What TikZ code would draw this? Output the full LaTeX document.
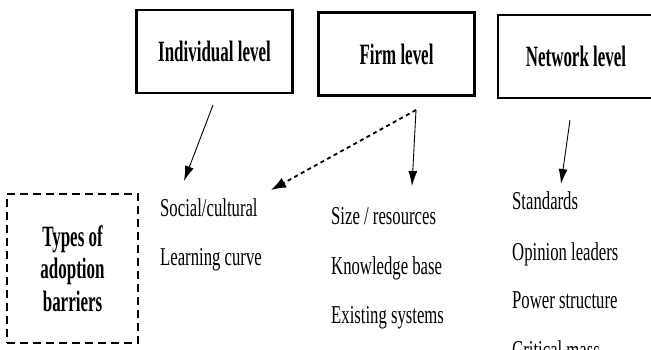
\documentclass[tikz,border=0pt]{standalone}
\usepackage{fontspec}
\setmainfont{Liberation Serif}
\newfontfamily\narrowrm[FakeStretch=0.65]{Liberation Serif}
\newfontfamily\narrowbf[FakeStretch=0.575]{Liberation Serif Bold}
\usetikzlibrary{arrows.meta}
\tikzset{
  lvl/.style={draw=black, line width=2.5pt, minimum width=156pt, minimum height=83pt,
              inner sep=0pt, font=\narrowbf\fontsize{29.5}{33}\selectfont},
  kind/.style={draw=black, line width=2pt, dash pattern=on 8pt off 5pt,
               minimum width=131pt, minimum height=149pt, inner sep=0pt, align=center,
               font=\narrowbf\fontsize{29.5}{32.5}\selectfont},
  item/.style={anchor=base west, inner sep=0pt, font=\narrowrm\fontsize{25.7}{30}\selectfont},
  arr/.style={-{Latex[length=15pt,width=9pt]}, line width=0.9pt},
  darr/.style={-{Latex[length=15pt,width=11pt]}, line width=1.8pt, dash pattern=on 4pt off 3.5pt},
}
\begin{document}
\begin{tikzpicture}[x=1pt,y=-1pt]
  \useasboundingbox (0,0) rectangle (651,350);
  % ---- levels ----
  \node[lvl] (indiv)   at (214.5,51.5) {Individual level};
  \node[lvl] (firm)    at (396.5,54)   {Firm level};
  \node[lvl] (network) at (576,56.5)   {Network level};
  % ---- barrier box ----
  \node[kind] (types) at (72.5,268.5) {Types of\\adoption\\barriers};
  % ---- barriers per level ----
  \node[item] (social)    at (160,217) {Social/cultural};
  \node[item] (learning)  at (160,265) {Learning curve};
  \node[item] (size)      at (331,225) {Size / resources};
  \node[item] (knowledge) at (331,274) {Knowledge base};
  \node[item] (existing)  at (331,323) {Existing systems};
  \node[item] (standards) at (512,210) {Standards};
  \node[item] (opinion)   at (512,260) {Opinion leaders};
  \node[item] (power)     at (512,308) {Power structure};
  \node[item] (critical)  at (512,358) {Critical mass};
  % ---- arrow ends ----
  \coordinate (i0) at (213,105);  \coordinate (i1) at (184,181);
  \coordinate (f0) at (416,110);  \coordinate (f1) at (412,186);
  \coordinate (d1) at (271,190);
  \coordinate (n0) at (570,120);  \coordinate (n1) at (561,184);
  \draw[arr]  (i0) -- (i1);
  \draw[arr]  (f0) -- (f1);
  \draw[darr] (f0) -- (d1);
  \draw[arr]  (n0) -- (n1);
\end{tikzpicture}
\end{document}
